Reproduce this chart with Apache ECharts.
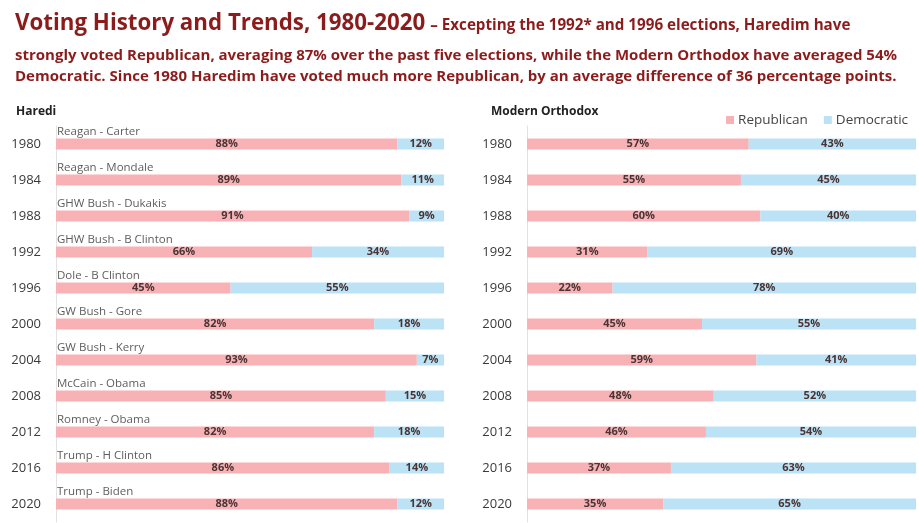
<!DOCTYPE html>
<html>
<head>
<meta charset="utf-8">
<script src="https://cdn.jsdelivr.net/npm/echarts@6/dist/echarts.min.js"></script>
<style>html,body{margin:0;padding:0;background:#fff}#c{width:919px;height:523px}</style>
</head>
<body>
<div id="c"></div>
<script>
const years = ['1980','1984','1988','1992','1996','2000','2004','2008','2012','2016','2020'];
const matchups = ['Reagan - Carter','Reagan - Mondale','GHW Bush - Dukakis','GHW Bush - B Clinton','Dole - B Clinton','GW Bush - Gore','GW Bush - Kerry','McCain - Obama','Romney - Obama','Trump - H Clinton','Trump - Biden'];
const harediRep = [88, 89, 91, 66, 45, 82, 93, 85, 82, 86, 88];
const harediDem = [12, 11, 9, 34, 55, 18, 7, 15, 18, 14, 12];
const moRep = [57, 55, 60, 31, 22, 45, 59, 48, 46, 37, 35];
const moDem = [43, 45, 40, 69, 78, 55, 41, 52, 54, 63, 65];

const FONT = '"Open Sans", "Noto Sans", sans-serif';
const RED = '#8c1c1c';
const PINK = '#f8b2b6';
const BLUE = '#bbe2f5';
const barLabel = {show: true, position: 'inside', formatter: '{c}%', fontFamily: FONT, fontSize: 11, fontWeight: 'bold', color: '#4a3434'};

const chart = echarts.init(document.getElementById('c'), null, {renderer: 'canvas'});

function yAxis(idx) {
  return {
    type: 'category', gridIndex: idx, data: years, inverse: true,
    axisLine: {show: true, lineStyle: {color: '#e2e2e2', width: 1}},
    axisTick: {show: false},
    axisLabel: {fontFamily: FONT, fontSize: 13, color: '#3a3a3a', margin: 15}
  };
}
function xAxis(idx) {
  return {type: 'value', gridIndex: idx, min: 0, max: 100, show: false};
}

chart.setOption({
  animation: false,
  backgroundColor: '#ffffff',
  title: [
    {
      left: 10, top: 8,
      text: '{a|Voting History and Trends, 1980-2020} {b|– Excepting the 1992* and 1996 elections, Haredim have}',
      textStyle: {
        rich: {
          a: {fontFamily: FONT, fontSize: 22.3, fontWeight: 'bold', color: RED},
          b: {fontFamily: FONT, fontSize: 15.2, fontWeight: 'bold', color: RED, padding: [3, 0, 0, 0]}
        }
      }
    },
    {
      left: 10, top: 40,
      text: 'strongly voted Republican, averaging 87% over the past five elections, while the Modern Orthodox have averaged 54%\nDemocratic. Since 1980 Haredim have voted much more Republican, by an average difference of 36 percentage points.',
      textStyle: {fontFamily: FONT, fontSize: 15, fontWeight: 'bold', color: RED, lineHeight: 21}
    },
    {left: 11, top: 101, text: 'Haredi', textStyle: {fontFamily: FONT, fontSize: 12, fontWeight: 'bold', color: '#222'}},
    {left: 486, top: 101, text: 'Modern Orthodox', textStyle: {fontFamily: FONT, fontSize: 12, fontWeight: 'bold', color: '#222'}}
  ],
  legend: {
    right: 6, top: 108,
    itemWidth: 8, itemHeight: 8, itemGap: 16,
    icon: 'rect',
    textStyle: {fontFamily: FONT, fontSize: 13.5, color: '#444', padding: [0, 0, 0, -1]},
    data: ['Republican', 'Democratic']
  },
  grid: [
    {left: 56, width: 388, top: 126, height: 396},
    {left: 527, width: 389, top: 126, height: 396}
  ],
  xAxis: [xAxis(0), xAxis(1)],
  yAxis: [yAxis(0), yAxis(1)],
  series: [
    {name: 'Republican', type: 'bar', stack: 'h', xAxisIndex: 0, yAxisIndex: 0, data: harediRep, barWidth: 11, itemStyle: {color: PINK}, label: barLabel},
    {name: 'Democratic', type: 'bar', stack: 'h', xAxisIndex: 0, yAxisIndex: 0, data: harediDem, barWidth: 11, itemStyle: {color: BLUE}, label: barLabel},
    {name: 'Republican', type: 'bar', stack: 'm', xAxisIndex: 1, yAxisIndex: 1, data: moRep, barWidth: 11, itemStyle: {color: PINK}, label: barLabel},
    {name: 'Democratic', type: 'bar', stack: 'm', xAxisIndex: 1, yAxisIndex: 1, data: moDem, barWidth: 11, itemStyle: {color: BLUE}, label: barLabel},
    {
      name: 'matchups', type: 'scatter', xAxisIndex: 0, yAxisIndex: 0,
      symbolSize: 0, silent: true,
      data: matchups.map((m, i) => ({value: [0, years[i]], name: m})),
      label: {show: true, position: 'right', distance: 1, offset: [0, -12], formatter: p => p.name, fontFamily: FONT, fontSize: 11.5, color: '#333'}
    }
  ]
});
</script>
</body>
</html>
